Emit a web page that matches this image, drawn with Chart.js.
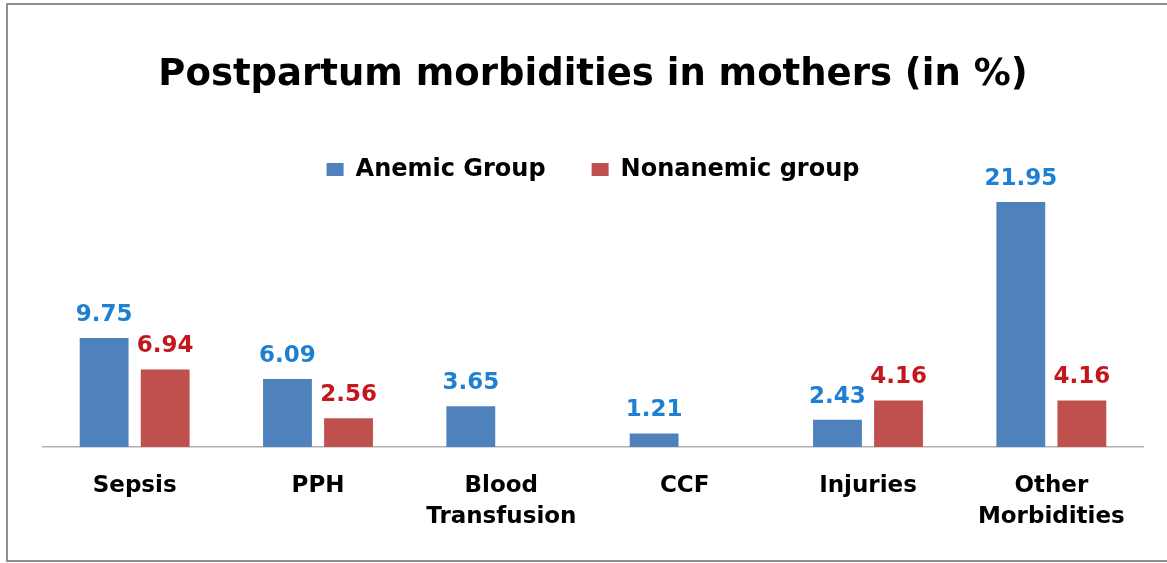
<!DOCTYPE html>
<html>
<head>
<meta charset="utf-8">
<script src="https://cdn.jsdelivr.net/npm/chart.js@4/dist/chart.umd.min.js"></script>
<style>
  html, body { margin: 0; padding: 0; background: #ffffff; }
  #wrap { position: relative; width: 1167px; height: 563px; overflow: hidden; }
  #frame { position: absolute; left: 6px; top: 3px; width: 1200px; height: 559px; border: 2px solid #8f8f8f; box-sizing: border-box; }
  canvas { position: absolute; left: 0; top: 0; }
</style>
</head>
<body>
<div id="wrap">
  <div id="frame"></div>
  <canvas id="c" width="1167" height="563"></canvas>
</div>
<script>
const categories = [["Sepsis"], ["PPH"], ["Blood", "Transfusion"], ["CCF"], ["Injuries"], ["Other", "Morbidities"]];
const seriesNames = ["Anemic Group", "Nonanemic group"];
const anemic = [9.75, 6.09, 3.65, 1.21, 2.43, 21.95];
const nonanemic = [6.94, 2.56, null, null, 4.16, 4.16];
const titleText = "Postpartum morbidities in mothers (in %)";

const barColors = ["#4f81bd", "#c0504d"];
const labelColors = ["#1f7fd2", "#c3161d"];
const FONT = "'DejaVu Sans', sans-serif";

const valueLabels = {
  id: 'valueLabels',
  afterDatasetsDraw(chart) {
    const ctx = chart.ctx;
    ctx.save();
    ctx.font = "bold 23px " + FONT;
    ctx.textAlign = 'center';
    ctx.textBaseline = 'alphabetic';
    chart.data.datasets.forEach((ds, di) => {
      const meta = chart.getDatasetMeta(di);
      meta.data.forEach((bar, i) => {
        const v = ds.data[i];
        if (v === null || v === undefined) return;
        ctx.fillStyle = labelColors[di];
        ctx.fillText(v.toFixed(2), bar.x, bar.y - 17);
      });
    });
    ctx.restore();
  }
};

new Chart(document.getElementById('c'), {
  type: 'bar',
  data: {
    labels: categories,
    datasets: [
      { label: seriesNames[0], data: anemic, backgroundColor: barColors[0], borderWidth: 0 },
      { label: seriesNames[1], data: nonanemic, backgroundColor: barColors[1], borderWidth: 0 }
    ]
  },
  options: {
    responsive: false,
    animation: false,
    devicePixelRatio: 1,
    layout: { padding: { left: 43, right: 24, top: 0, bottom: 6 } },
    datasets: { bar: { categoryPercentage: 0.666, barPercentage: 0.8 } },
    plugins: {
      tooltip: { enabled: false },
      title: {
        display: true,
        text: titleText,
        color: '#000000',
        font: { family: FONT, size: 37, weight: 'bold', lineHeight: 1.2 },
        padding: { top: 53, bottom: 14 }
      },
      legend: {
        display: true,
        position: 'top',
        labels: {
          color: '#000000',
          font: { family: FONT, size: 24, weight: 'bold' },
          boxWidth: 17,
          boxHeight: 13,
          padding: 46
        }
      }
    },
    scales: {
      x: {
        grid: { display: false, drawTicks: false },
        border: { display: true, color: '#b0b0b0', width: 1.5 },
        ticks: {
          color: '#000000',
          font: { family: FONT, size: 23, weight: 'bold', lineHeight: 1.35 },
          padding: 24,
          maxRotation: 0,
          autoSkip: false
        }
      },
      y: {
        display: false,
        min: 0,
        max: 22.9
      }
    }
  },
  plugins: [valueLabels]
});
</script>
</body>
</html>
